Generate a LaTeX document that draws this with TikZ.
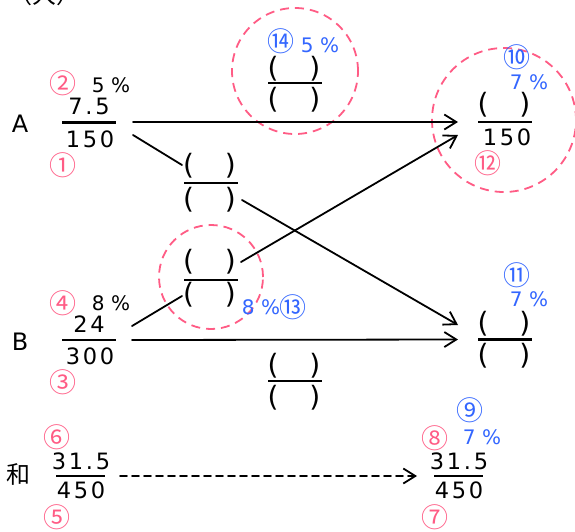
\documentclass[tikz,border=0pt]{standalone}
\usepackage{fontspec}
\setmainfont{DejaVu Sans}
\newfontfamily\jpfont{Noto Sans CJK JP}
\usetikzlibrary{arrows.meta}
\definecolor{markpink}{HTML}{FF5C85}
\definecolor{markblue}{HTML}{3366FF}
\begin{document}
\begin{tikzpicture}[x=1pt,y=-1pt,
  val/.style={inner sep=0pt, font=\fontsize{22.5}{22.5}\selectfont\addfontfeature{LetterSpace=12}},
  side/.style={inner sep=0pt, font=\fontsize{24}{24}\selectfont},
  paren/.style={inner sep=0pt, font=\fontsize{28}{28}\selectfont},
  bar/.style={fill=black, inner sep=0pt, minimum height=2.2pt, minimum width=54pt},
  shortbar/.style={bar, minimum width=49pt},
  tagp/.style={inner sep=0pt, text=markpink, font=\jpfont\fontsize{27}{27}\selectfont},
  tagb/.style={tagp, text=markblue},
  pct/.style={inner sep=0pt, font=\fontsize{20}{20}\selectfont},
  pctb/.style={pct, text=markblue},
  ring/.style={circle, draw=markpink, dash pattern=on 9pt off 6pt, line width=1.8pt, inner sep=0pt},
  link/.style={line width=1.8pt, line cap=round},
  arrow/.style={link, -{Straight Barb[length=12pt,width=15pt,line width=1.8pt]}},
]
\useasboundingbox (0,0) rectangle (575,531);

% heading, mostly above the frame
\node[inner sep=0pt, anchor=base, font=\jpfont\fontsize{24}{24}\selectfont] (head) at (45,3) {（大）};

% dashed rings
\node[ring, minimum size=126pt] (ring14) at (295,71) {};
\node[ring, minimum size=144pt] (ringR) at (504,120) {};
\node[ring, minimum size=104pt] (ring13) at (211,277) {};

% row A
\node[side] (lA) at (20,124) {A};
\node[bar] (barA) at (88.5,122.5) {};
\node[val] (nA) at (89,106) {7.5};
\node[val] (dA) at (90,139.5) {150};
\node[tagp] (t2) at (63,83) {②};
\node[pct] (pA) at (111,85) {5\ \%};
\node[tagp] (t1) at (63,165) {①};

% row B
\node[side] (lB) at (20,342) {B};
\node[bar] (barB) at (88.5,340) {};
\node[val] (nB) at (89,324) {24};
\node[val] (dB) at (90,356) {300};
\node[tagp] (t4) at (63,303) {④};
\node[pct] (pB) at (111,303) {8\ \%};
\node[tagp] (t3) at (63,382) {③};

% sum row
\node[inner sep=0pt, font=\jpfont\fontsize{24}{24}\selectfont] (lS) at (18,474) {和};
\node[shortbar] (barS) at (80,476) {};
\node[val] (nS) at (81,461) {31.5};
\node[val] (dS) at (81,490) {450};
\node[tagp] (t6) at (57,437) {⑥};
\node[tagp] (t5) at (57,517) {⑤};

% blank fraction inside the top ring
\node[bar] (barT) at (295,83) {};
\node[paren] (nT) at (294,69) {(\hspace{31pt})};
\node[paren] (dT) at (294,100) {(\hspace{31pt})};
\node[tagb] (t14) at (281,41) {⑭};
\node[pctb] (pT) at (320,45) {5\ \%};

% blank fraction on the A-to-right path
\node[bar] (barU) at (210.5,183) {};
\node[paren] (nU) at (209.5,166) {(\hspace{31pt})};
\node[paren] (dU) at (209.5,200) {(\hspace{31pt})};

% blank fraction inside the middle ring
\node[bar] (barM) at (210.5,280) {};
\node[paren] (nM) at (209.5,262) {(\hspace{31pt})};
\node[paren] (dM) at (209.5,295) {(\hspace{31pt})};
\node[pctb] (pM) at (261,307) {8\ \%};
\node[tagb] (t13) at (293,307) {⑬};

% blank fraction under the B arrow
\node[bar] (barL) at (295,381) {};
\node[paren] (nL) at (294,366) {(\hspace{31pt})};
\node[paren] (dL) at (294,398) {(\hspace{31pt})};

% right column, upper
\node[bar] (barRA) at (505,122) {};
\node[paren] (nRA) at (504,105) {(\hspace{31pt})};
\node[val] (dRA) at (507,137.5) {150};
\node[tagb] (t10) at (517,57) {⑩};
\node[pctb] (pRA) at (529,82) {7\ \%};
\node[tagp] (t12) at (488,163) {⑫};

% right column, middle
\node[bar] (barRB) at (505,339.5) {};
\node[paren] (nRB) at (504,324) {(\hspace{31pt})};
\node[paren] (dRB) at (504,356) {(\hspace{31pt})};
\node[tagb] (t11) at (517,275) {⑪};
\node[pctb] (pRB) at (529,299) {7\ \%};

% right column, sum
\node[shortbar] (barRS) at (458.5,476) {};
\node[val] (nRS) at (459,461) {31.5};
\node[val] (dRS) at (459,490) {450};
\node[tagp] (t8) at (435,438) {⑧};
\node[tagb] (t9) at (470,410) {⑨};
\node[pctb] (pRS) at (482,437) {7\ \%};
\node[tagp] (t7) at (435,517) {⑦};

% connector ends
\coordinate (aOut) at (133,122);
\coordinate (aDown) at (133,135);
\coordinate (uIn) at (182,165);
\coordinate (uOut) at (242,200);
\coordinate (bUp) at (132,326);
\coordinate (mIn) at (182,296);
\coordinate (mOut) at (241,262);
\coordinate (bOut) at (132,340);
\coordinate (sOut) at (120,476);
\coordinate (raIn) at (458,122);
\coordinate (raIn2) at (458,135);
\coordinate (rbIn) at (458,325);
\coordinate (rbIn2) at (458,339.5);
\coordinate (rsIn) at (417,476);

% connectors
\draw[arrow] (aOut) -- (raIn);
\draw[link] (aDown) -- (uIn);
\draw[arrow] (uOut) -- (rbIn);
\draw[link] (bUp) -- (mIn);
\draw[arrow] (mOut) -- (raIn2);
\draw[arrow] (bOut) -- (rbIn2);
\draw[arrow, dash pattern=on 7pt off 5pt] (sOut) -- (rsIn);
\end{tikzpicture}
\end{document}
